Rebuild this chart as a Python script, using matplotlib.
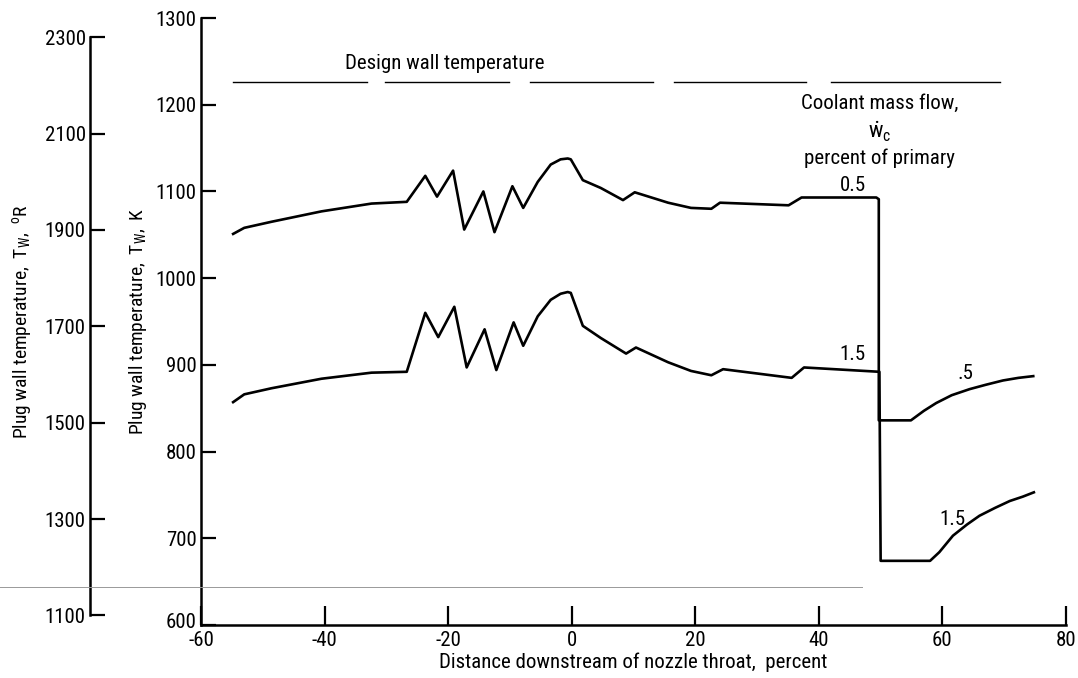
import numpy as np
import matplotlib
matplotlib.use("Agg")
import matplotlib.pyplot as plt
from matplotlib.lines import Line2D
from matplotlib.transforms import ScaledTranslation

families = ['Roboto Condensed', 'Archivo Narrow', 'PT Sans Narrow', 'Fira Sans Condensed',
            'Liberation Sans Narrow', 'DejaVu Sans']
plt.rcParams['font.family'] = families
plt.rcParams['mathtext.fontset'] = 'custom'
plt.rcParams['mathtext.rm'] = 'Roboto Condensed'
plt.rcParams['mathtext.it'] = 'Roboto Condensed'

# coolant mass flow 0.5 percent of primary
x_05 = [-54.8, -53.0, -48.6, -40.5, -32.4, -26.7, -23.7, -21.8, -19.2, -17.4, -14.3,
        -12.5, -9.6, -7.85, -5.5, -3.4, -1.8, -0.65, -0.15, 1.8, 4.7, 8.3, 10.2, 15.6,
        19.3, 22.6, 24.0, 35.1, 37.2, 49.3, 49.7, 49.7, 54.9, 57.0, 59.0, 61.5, 64.4, 67.0,
        69.8, 72.3, 74.7]
t_05 = [1051, 1058, 1065, 1077, 1086, 1088, 1118, 1094, 1124, 1056, 1100,
        1053, 1106, 1081, 1111, 1131, 1137, 1138, 1137, 1113, 1104, 1090, 1099, 1087,
        1081, 1080, 1087, 1084, 1093, 1093, 1091, 836, 836, 847, 856, 865, 872, 877,
        882, 885, 887]

# coolant mass flow 1.5 percent of primary
x_15 = [-54.8, -53.0, -48.6, -40.5, -32.4, -26.7, -23.7, -21.6, -19.0, -17.0, -14.1,
        -12.2, -9.4, -7.85, -5.5, -3.4, -1.8, -0.65, -0.15, 1.8, 4.7, 8.8, 10.4, 15.6,
        19.3, 22.6, 24.5, 35.6, 37.6, 49.8, 50.0, 58.0, 59.5, 61.7, 64.0, 66.0, 68.5,
        70.9, 73.0, 74.8]
t_15 = [857, 866, 873, 884, 891, 892, 960, 932, 967, 897, 941,
        894, 949, 922, 956, 975, 982, 984, 983, 945, 931, 913, 920, 903,
        893, 888, 895, 885, 897, 892, 674, 674, 684, 703, 716, 726, 735,
        743, 748, 753]

# design wall temperature dashes
design_x = [(-54.8, -33.2), (-30.2, -10.1), (-6.8, 13.2), (16.6, 38.0), (42.0, 69.3)]
design_t = 1226

x_ticks = [-60, -40, -20, 0, 20, 40, 60, 80]
k_ticks = [600, 700, 800, 900, 1000, 1100, 1200, 1300]
r_ticks = [1100, 1300, 1500, 1700, 1900, 2100, 2300]

fig = plt.figure(figsize=(10.78, 6.78), dpi=100)
ax = fig.add_axes([201 / 1078, 53 / 678, (1066 - 201) / 1078, 607 / 678])
ax.plot(x_05, t_05, "k-", lw=1.9)
ax.plot(x_15, t_15, "k-", lw=1.9)
for a, b in design_x:
    ax.plot([a, b], [design_t, design_t], "k-", lw=1.0)

ax.set_xlim(-60, 80)
ax.set_ylim(600, 1300)
ax.set_xticks(x_ticks)
ax.set_yticks(k_ticks)
ax.set_xticklabels([str(v) for v in x_ticks])
for s in ["top", "right"]:
    ax.spines[s].set_visible(False)
ax.spines["left"].set_linewidth(1.8)
ax.spines["bottom"].set_linewidth(1.8)
ax.tick_params(axis="both", direction="in", width=1.6, labelsize=15)
ax.tick_params(axis="x", length=14, pad=4)
ax.tick_params(axis="y", length=10.5, pad=3)
# lift the lowest K label a little, as in the original
lab600 = ax.get_yticklabels()[0]
lab600.set_transform(lab600.get_transform() + ScaledTranslation(0, 4 / 100, fig.dpi_scale_trans))
ax.set_xlabel("Distance downstream of nozzle throat,  percent", fontsize=15, labelpad=2)
ax.set_ylabel("Plug wall temperature,  T$_W$,  K", fontsize=14, labelpad=5)

ax.text(-20.6, 1248, "Design wall temperature", fontsize=15, ha="center", va="center")
ax.text(49.8, 1201, "Coolant mass flow,", fontsize=15, ha="center", va="center")
ax.text(49.8, 1169, r"$\dot{\mathrm{w}}_\mathrm{c}$", fontsize=16, ha="center", va="center")
ax.text(49.8, 1138, "percent of primary", fontsize=15, ha="center", va="center")
ax.text(45.5, 1107, "0.5", fontsize=15, ha="center", va="center")
ax.text(45.5, 912, "1.5", fontsize=15, ha="center", va="center")
ax.text(63.7, 890, ".5", fontsize=15, ha="center", va="center")
ax.text(61.6, 722, "1.5", fontsize=15, ha="center", va="center")

# Rankine scale drawn as a second axis
ax2 = fig.add_axes([90 / 1078, 53 / 678, 0.01, 607 / 678])
ax2.set_ylim(600 * 1.8, 1300 * 1.8)
ax2.set_yticks(r_ticks)
ax2.set_xticks([])
for s in ["top", "right", "bottom"]:
    ax2.spines[s].set_visible(False)
ax2.spines["left"].set_bounds(1100, 2300)
ax2.spines["left"].set_linewidth(1.8)
ax2.patch.set_visible(False)
ax2.tick_params(axis="y", direction="in", length=11, width=1.6, labelsize=15, pad=3)
ax2.set_ylabel("Plug wall temperature,  T$_W$,  $^{o}$R", fontsize=14, labelpad=8)

# faint scan line
fig.add_artist(Line2D([0.0, 0.8], [1 - 587 / 678, 1 - 587 / 678], color="0.6", lw=0.7))

fig.savefig("out.png", dpi=100, facecolor="white")
